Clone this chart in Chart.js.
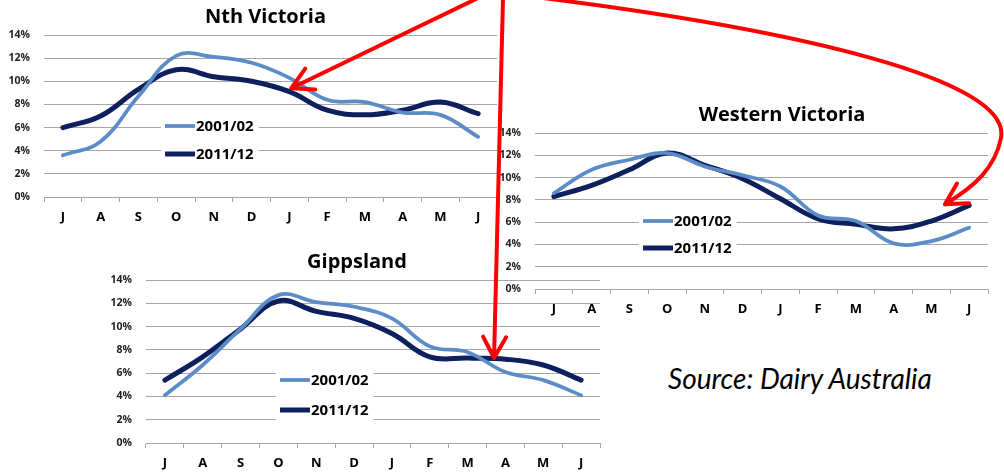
<!DOCTYPE html>
<html>
<head>
<meta charset="utf-8">
<script src="https://cdn.jsdelivr.net/npm/chart.js@4.4.0/dist/chart.umd.min.js"></script>
<style>
  body { margin: 0; background: #fff; width: 1004px; height: 475px; position: relative; overflow: hidden; font-family: "Open Sans", Lato, sans-serif; }
  canvas { position: absolute; }
  #source { position: absolute; left: 668px; top: 361px; font-family: Lato, sans-serif; font-style: italic; font-size: 28px; color: #000; }
  #arrows { left: 0; top: 0; pointer-events: none; }
</style>
</head>
<body>
<canvas id="nth" width="505" height="228" style="left:0;top:0"></canvas>
<canvas id="west" width="506" height="222" style="left:490px;top:98px"></canvas>
<canvas id="gipps" width="508" height="229" style="left:100px;top:245px"></canvas>
<div id="source">Source: Dairy Australia</div>
<canvas id="arrows" width="1004" height="475"></canvas>
<script>
(function () {
    // month-by-month share of annual milk intake, %
    var months = ['J', 'A', 'S', 'O', 'N', 'D', 'J', 'F', 'M', 'A', 'M', 'J'];
    var seasons = ['2001/02', '2011/12'];

    var nthVictoria2001 = [3.6, 4.8, 8.7, 12.2, 12.1, 11.6, 10.3, 8.4, 8.2, 7.3, 7.1, 5.2];
    var nthVictoria2011 = [6.0, 7.0, 9.3, 11.0, 10.4, 10.0, 9.1, 7.5, 7.1, 7.5, 8.2, 7.2];

    var westVictoria2001 = [8.6, 10.7, 11.6, 12.2, 11.0, 10.2, 9.2, 6.6, 6.1, 4.1, 4.3, 5.5];
    var westVictoria2011 = [8.3, 9.3, 10.7, 12.2, 11.1, 9.9, 8.1, 6.3, 5.8, 5.4, 6.1, 7.5];

    var gippsland2001 = [4.1, 6.7, 9.8, 12.7, 12.1, 11.7, 10.7, 8.3, 7.8, 6.1, 5.4, 4.1];
    var gippsland2011 = [5.4, 7.4, 9.8, 12.2, 11.3, 10.7, 9.4, 7.4, 7.3, 7.2, 6.7, 5.4];

    var yMax = 14, yStep = 2;

    var lightBlue = '#5b8cc8';
    var navy = '#0d1f5c';
    var gridGrey = '#a6a6a6';

    Chart.defaults.font.family = '"Open Sans", Lato, sans-serif';

    // legend sitting inside the plot on a white box
    var boxLegend = {
        id: 'boxLegend',
        beforeDatasetsDraw: function (chart, args, opts) {
            var ctx = chart.ctx, area = chart.chartArea;
            var x = area.left + opts.x, y = area.top + opts.y;
            ctx.save();
            ctx.font = 'bold 15px "Open Sans", sans-serif';
            var textW = 0;
            chart.data.datasets.forEach(function (ds) {
                textW = Math.max(textW, ctx.measureText(ds.label).width);
            });
            var n = chart.data.datasets.length;
            ctx.fillStyle = '#fff';
            ctx.fillRect(x - 4, y - 14, 32 + textW + 8, (n - 1) * opts.gap + 28);
            chart.data.datasets.forEach(function (ds, i) {
                var yy = y + i * opts.gap;
                ctx.strokeStyle = ds.borderColor;
                ctx.lineWidth = ds.borderWidth;
                ctx.beginPath();
                ctx.moveTo(x, yy);
                ctx.lineTo(x + 30, yy);
                ctx.stroke();
                ctx.fillStyle = '#000';
                ctx.textBaseline = 'middle';
                ctx.fillText(ds.label, x + 31, yy + 1);
            });
            ctx.restore();
        }
    };

    // nudge the title sideways
    var titleShift = {
        id: 'titleShift',
        afterLayout: function (chart, args, opts) {
            if (chart.titleBlock && opts.dx) {
                chart.titleBlock.left += opts.dx;
                chart.titleBlock.right += opts.dx;
            }
        }
    };

    function regionChart(id, title, first, second, o) {
        return new Chart(document.getElementById(id), {
            type: 'line',
            data: {
                labels: months,
                datasets: [
                    { label: seasons[0], data: first, borderColor: lightBlue, borderWidth: 3.75 },
                    { label: seasons[1], data: second, borderColor: navy, borderWidth: 5 }
                ]
            },
            options: {
                responsive: false,
                animation: false,
                layout: { padding: { left: 0, right: 8, top: 0, bottom: 0 } },
                elements: {
                    point: { radius: 0 },
                    line: { tension: 0.4, borderCapStyle: 'round' }
                },
                plugins: {
                    legend: { display: false },
                    tooltip: { enabled: false },
                    title: {
                        display: true, text: title, color: '#000',
                        font: { size: 20, weight: 'bold' },
                        padding: { top: 5, bottom: 6 }
                    },
                    titleShift: { dx: o.titleDx },
                    boxLegend: { x: o.legendX, y: o.legendY, gap: o.legendGap }
                },
                scales: {
                    x: {
                        offset: true,
                        grid: { offset: true, drawOnChartArea: false, color: gridGrey, tickLength: 5 },
                        border: { color: gridGrey },
                        ticks: { color: '#000', font: { size: 13, weight: 'bold' }, padding: 7, autoSkip: false, maxRotation: 0 },
                        afterFit: function (s) { s.height = 31; }
                    },
                    y: {
                        min: 0, max: yMax,
                        ticks: {
                            stepSize: yStep, padding: 14, color: '#222',
                            font: { size: 10.5, weight: 'bold' },
                            callback: function (v) { return v + '%'; }
                        },
                        grid: { color: gridGrey, drawTicks: false },
                        border: { display: false },
                        afterFit: function (s) { s.width = o.yWidth; }
                    }
                }
            },
            plugins: [boxLegend, titleShift]
        });
    }

    var nth = regionChart('nth', 'Nth Victoria', nthVictoria2001, nthVictoria2011,
        { yWidth: 44, titleDx: 17, legendX: 121, legendY: 91, legendGap: 28 });
    var west = regionChart('west', 'Western Victoria', westVictoria2001, westVictoria2011,
        { yWidth: 45, titleDx: 43, legendX: 108, legendY: 88, legendGap: 27 });
    var gipps = regionChart('gipps', 'Gippsland', gippsland2001, gippsland2011,
        { yWidth: 46, titleDx: 7, legendX: 134, legendY: 100, legendGap: 30 });

    // red call-out arrows, tips placed on the curves via each chart's scales
    function tipOf(chart, idx, val) {
        var c = chart.canvas;
        return {
            x: c.offsetLeft + chart.scales.x.getPixelForValue(idx),
            y: c.offsetTop + chart.scales.y.getPixelForValue(val)
        };
    }

    function arrowHead(ctx, tip, fromX, fromY) {
        var ang = Math.atan2(fromY - tip.y, fromX - tip.x);
        [-0.5, 0.5].forEach(function (d) {
            ctx.moveTo(tip.x, tip.y);
            ctx.lineTo(tip.x + 24 * Math.cos(ang + d), tip.y + 24 * Math.sin(ang + d));
        });
    }

    var ctx = document.getElementById('arrows').getContext('2d');
    ctx.strokeStyle = '#ff0000';
    ctx.lineWidth = 4;
    ctx.lineCap = 'round';
    ctx.lineJoin = 'round';

    var t1 = tipOf(nth, 6.05, 9.4);
    ctx.beginPath();
    ctx.moveTo(478, -2);
    ctx.lineTo(t1.x, t1.y);
    arrowHead(ctx, t1, 478, -2);
    ctx.stroke();

    var t2 = tipOf(gipps, 8.7, 7.3);
    ctx.beginPath();
    ctx.moveTo(503, -2);
    ctx.lineTo(t2.x, t2.y);
    arrowHead(ctx, t2, 503, -2);
    ctx.stroke();

    var t3 = tipOf(west, 10.36, 7.6);
    ctx.beginPath();
    ctx.moveTo(535, -3);
    ctx.bezierCurveTo(800, 30, 1012, 80, 1001, 138);
    ctx.bezierCurveTo(995, 168, 975, 186, t3.x, t3.y);
    arrowHead(ctx, t3, 975, 186);
    ctx.stroke();
})();
</script>
</body>
</html>
